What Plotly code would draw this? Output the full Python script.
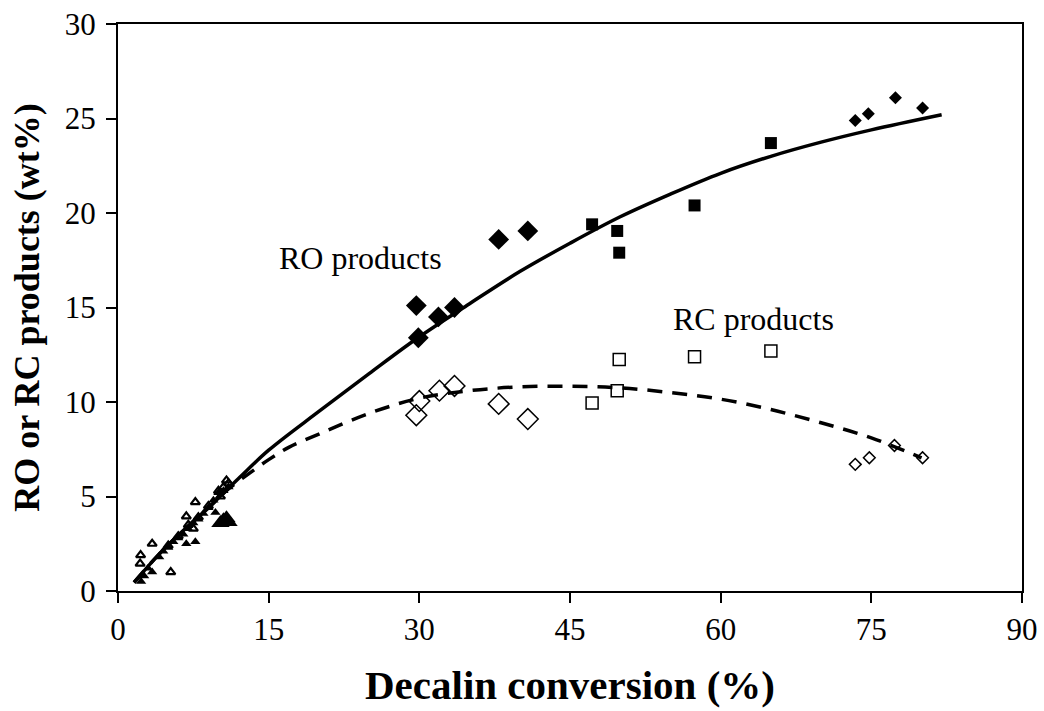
import plotly.graph_objects as go

# ---- data ----
ro_big_x = [29.9, 29.7, 31.9, 33.5, 37.9, 40.8]
ro_big_y = [13.4, 15.1, 14.5, 15.0, 18.6, 19.05]
rc_big_x = [29.7, 30.0, 32.0, 33.5, 37.9, 40.8]
rc_big_y = [9.3, 10.05, 10.6, 10.85, 9.9, 9.1]

ro_sq_x = [47.2, 49.7, 49.9, 57.4, 65.0]
ro_sq_y = [19.4, 19.05, 17.9, 20.4, 23.7]
rc_sq_x = [47.2, 49.7, 49.9, 57.4, 65.0]
rc_sq_y = [9.95, 10.6, 12.25, 12.4, 12.7]

ro_small_x = [73.4, 74.7, 77.4, 80.1]
ro_small_y = [24.9, 25.25, 26.1, 25.55]
rc_small_x = [73.4, 74.8, 77.3, 80.1]
rc_small_y = [6.7, 7.05, 7.7, 7.05]

ro_tri_x = [2.3, 3.4, 4.1, 6.8, 7.7, 9.7, 2.6, 3.0, 4.5, 5.0, 5.5, 6.0, 6.5, 7.0,
            7.5, 8.0, 8.5, 9.0, 9.5, 10.0, 10.5, 11.0]
ro_tri_y = [0.5, 1.0, 1.8, 2.5, 2.6, 4.15, 0.8, 1.2, 2.1, 2.3, 2.6, 2.8, 3.0, 3.3,
            3.6, 3.8, 4.1, 4.4, 4.8, 5.2, 5.3, 5.5]
ro_tri_big_x = [10.2, 10.5, 10.8, 11.0]
ro_tri_big_y = [3.6, 3.75, 3.85, 3.65]

rc_tri_x = [2.25, 2.2, 3.4, 5.25, 7.7, 6.8, 10.8, 5.0, 6.0, 7.0, 7.5, 8.0, 9.0, 10.0,
            10.2, 10.5, 11.0]
rc_tri_y = [1.9, 1.45, 2.5, 1.0, 4.7, 3.95, 5.85, 2.4, 2.9, 3.5, 3.3, 3.9, 4.5, 5.3,
            5.0, 5.5, 5.7]

ro_fit_x = [1.6, 4, 6, 9, 12, 15, 20, 25, 30, 35, 40, 45, 50, 55, 60, 65, 70, 75, 82]
ro_fit_y = [0.45, 1.9, 2.95, 4.4, 5.95, 7.45, 9.5, 11.5, 13.45, 15.2, 16.9, 18.4,
            19.8, 21.0, 22.1, 23.0, 23.75, 24.4, 25.2]
rc_fit_x = [1.6, 4, 6, 9, 11, 13, 15, 17, 20, 25, 30, 35, 40, 45, 50, 55, 60, 65,
            70, 75, 80]
rc_fit_y = [0.45, 1.9, 2.95, 4.4, 5.4, 6.2, 6.95, 7.6, 8.3, 9.4, 10.2, 10.6, 10.8,
            10.83, 10.75, 10.5, 10.15, 9.6, 8.9, 8.1, 7.05]

FONT = "Liberation Serif, Times New Roman, serif"

fig = go.Figure()

fig.add_trace(go.Scatter(x=rc_fit_x, y=rc_fit_y, mode="lines", line_shape="spline",
                         line=dict(color="black", width=3.5, dash="15px,10px")))
fig.add_trace(go.Scatter(x=ro_fit_x, y=ro_fit_y, mode="lines", line_shape="spline",
                         line=dict(color="black", width=3.5)))

def mk(x, y, symbol, size, lw=0):
    return go.Scatter(x=x, y=y, mode="markers",
                      marker=dict(symbol=symbol, size=size, color="black",
                                  line=dict(color="black", width=lw)))

fig.add_trace(mk(ro_big_x, ro_big_y, "diamond", 16))
fig.add_trace(mk(rc_big_x, rc_big_y, "diamond-open", 16, 1.5))
fig.add_trace(mk(ro_sq_x, ro_sq_y, "square", 12))
fig.add_trace(mk(rc_sq_x, rc_sq_y, "square-open", 12, 1.5))
fig.add_trace(mk(ro_small_x, ro_small_y, "diamond", 10))
fig.add_trace(mk(rc_small_x, rc_small_y, "diamond-open", 9, 1.5))
fig.add_trace(mk(ro_tri_x, ro_tri_y, "triangle-up", 9))
fig.add_trace(mk(ro_tri_big_x, ro_tri_big_y, "triangle-up", 16))
fig.add_trace(mk(rc_tri_x, rc_tri_y, "triangle-up-open", 8, 2.2))

fig.add_annotation(x=24.1, y=17.6, text="RO products", showarrow=False,
                   font=dict(family=FONT, size=32, color="black"))
fig.add_annotation(x=63.3, y=14.4, text="RC products", showarrow=False,
                   font=dict(family=FONT, size=32, color="black"))

axis_common = dict(showline=True, linecolor="black", linewidth=2, mirror=True,
                   ticks="outside", ticklen=10, tickwidth=2, tickcolor="black",
                   showgrid=False, zeroline=False, ticklabeloverflow="allow",
                   tickfont=dict(family=FONT, size=31, color="black"))

fig.update_xaxes(range=[0, 90], dtick=15, tick0=0,
                 title=dict(text="<b>Decalin conversion (%)</b>", standoff=24,
                            font=dict(family=FONT, size=41, color="black")),
                 **axis_common)
fig.update_yaxes(range=[0, 30], dtick=5, tick0=0, ticklabelstandoff=4,
                 title=dict(text="<b>RO or RC products (wt%)</b>", standoff=14,
                            font=dict(family=FONT, size=36, color="black")),
                 **axis_common)

fig.update_layout(width=1044, height=711, showlegend=False,
                  plot_bgcolor="white", paper_bgcolor="white",
                  margin=dict(l=118, r=22, t=24, b=120, autoexpand=False))

# remove the default page margin so the figure sits at the window's corner
fig.write_html("out.html", config={"displayModeBar": False},
               post_script="document.body.style.margin='0';document.body.style.overflow='hidden';")
